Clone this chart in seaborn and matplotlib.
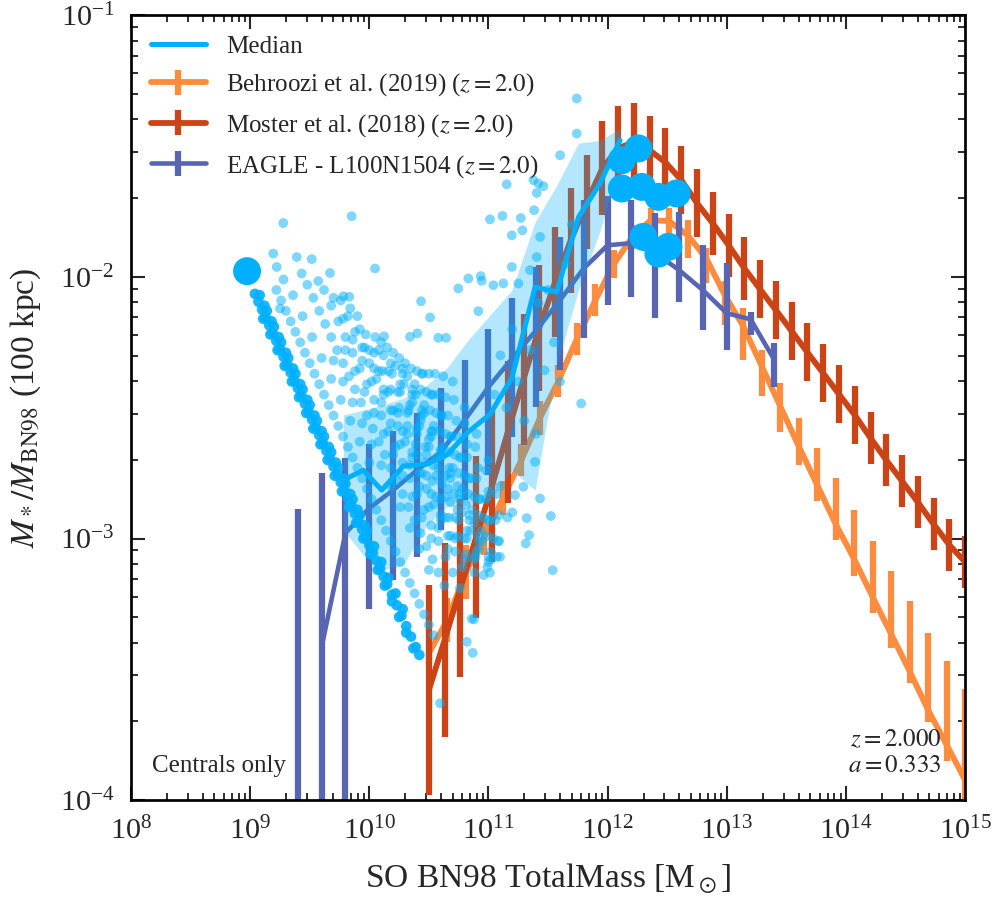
import numpy as np
import matplotlib
matplotlib.use('Agg')
import matplotlib.pyplot as plt
import seaborn as sns

# ---- data (log10 values) ----
# Behroozi et al. (2019), z=2
beh_logm = [10.50, 10.655, 10.81, 10.966, 11.121, 11.276, 11.431, 11.586, 11.741, 11.897,
            12.052, 12.207, 12.362, 12.517, 12.672, 12.828, 12.983, 13.138, 13.293, 13.448,
            13.603, 13.759, 13.914, 14.069, 14.224, 14.379, 14.534, 14.69, 14.845, 15.0]
beh_logr = [-3.438, -3.312, -3.128, -2.995, -2.846, -2.700, -2.540, -2.399, -2.238, -2.089,
            -1.951, -1.848, -1.783, -1.787, -1.841, -1.929, -2.070, -2.188, -2.341, -2.494,
            -2.647, -2.796, -2.945, -3.079, -3.224, -3.365, -3.507, -3.656, -3.789, -3.923]
beh_up = [0.04, 0.084, 0.103, 0.069, 0.065, 0.061, 0.065, 0.061, 0.061, 0.061,
          0.053, 0.046, 0.046, 0.05, 0.057, 0.04, 0.053, 0.069, 0.061, 0.088,
          0.107, 0.141, 0.176, 0.187, 0.214, 0.241, 0.267, 0.294, 0.321, 0.348]
beh_lo = [0.04, 0.084, 0.103, 0.069, 0.065, 0.061, 0.065, 0.061, 0.061, 0.061,
          0.053, 0.046, 0.038, 0.046, 0.088, 0.096, 0.115, 0.13, 0.115, 0.099,
          0.073, 0.061, 0.061, 0.065, 0.061, 0.053, 0.046, 0.046, 0.061, 0.076]

# Moster et al. (2018), z=2
mos_logm = [10.5, 10.632, 10.765, 10.897, 11.029, 11.162, 11.294, 11.426, 11.559, 11.691,
            11.824, 11.956, 12.088, 12.221, 12.353, 12.485, 12.618, 12.75, 12.882, 13.015,
            13.147, 13.279, 13.412, 13.544, 13.676, 13.809, 13.941, 14.074, 14.206, 14.338,
            14.471, 14.603, 14.735, 14.868, 15.0]
mos_logr = [-3.579, -3.388, -3.190, -2.995, -2.800, -2.593, -2.391, -2.196, -2.020, -1.860,
            -1.715, -1.585, -1.508, -1.485, -1.516, -1.562, -1.630, -1.718, -1.795, -1.879,
            -1.967, -2.047, -2.127, -2.207, -2.288, -2.368, -2.448, -2.528, -2.616, -2.700,
            -2.781, -2.861, -2.945, -3.025, -3.090]
mos_err = [0.40, 0.37, 0.34, 0.31, 0.29, 0.27, 0.25, 0.24, 0.21, 0.20,
           0.18, 0.18, 0.16, 0.15, 0.13, 0.13, 0.13, 0.13, 0.12, 0.12,
           0.12, 0.11, 0.11, 0.11, 0.11, 0.11, 0.11, 0.11, 0.10, 0.10,
           0.10, 0.10, 0.10, 0.10, 0.10]

# EAGLE L100N1504, z=2 (median, lower and upper ends of bars)
eagle_logm = [9.4, 9.6, 9.8, 10.0, 10.2, 10.4, 10.6, 10.8, 11.0, 11.2, 11.4,
              11.6, 11.8, 12.0, 12.2, 12.4, 12.6, 12.8, 13.0, 13.2, 13.4]
eagle_logr = [np.nan, -3.415, -2.979, -2.884, -2.815, -2.739, -2.670, -2.548, -2.421, -2.311, -2.204,
              -2.089, -1.967, -1.879, -1.871, -1.909, -1.974, -2.051, -2.139, -2.162, -2.318]
eagle_hi = [-2.888, -2.750, -2.693, -2.639, -2.590, -2.521, -2.425, -2.318, -2.200, -2.081, -1.963,
            -1.848, -1.707, -1.692, -1.707, -1.757, -1.753, -1.879, -1.948, -2.135, -2.253]
eagle_lo = [-5.0, -5.0, -5.0, -3.270, -3.159, -3.071, -2.968, -2.853, -2.758, -2.613, -2.498,
            -2.357, -2.234, -2.108, -2.078, -2.158, -2.097, -2.204, -2.280, -2.223, -2.421]

# binned median of the simulated centrals and its 16-84 range
med_logm = [9.782, 9.950, 10.104, 10.286, 10.482, 10.650, 10.829, 11.013, 11.196, 11.391,
            11.573, 11.755, 11.937, 12.104]
med_logr = [-2.777, -2.739, -2.815, -2.723, -2.716, -2.681, -2.593, -2.525, -2.387, -2.039,
            -2.058, -1.772, -1.642, -1.478]
med_up = [-2.528, -2.509, -2.490, -2.464, -2.414, -2.349, -2.242, -2.146, -2.051, -1.791,
          -1.650, -1.489, -1.478, -1.432]
med_lo = [-2.968, -3.063, -3.121, -3.102, -2.949, -2.880, -2.872, -2.853, -2.739, -2.815,
          -2.337, -2.051, -1.822, -1.554]

# individual haloes drawn as large dots (sparse bins)
big_logm = [8.974, 12.258, 12.119, 12.119, 12.287, 12.426, 12.580, 12.300, 12.426, 12.510]
big_logr = [-1.978, -1.509, -1.554, -1.662, -1.656, -1.694, -1.681, -1.847, -1.911, -1.885]

# heavily over-plotted streak of the lowest stellar mass (log M, log ratio)
dense_logm = [
    9.04, 9.07, 9.10, 9.13, 9.16, 9.19, 9.22, 9.25, 9.28, 9.31, 9.34, 9.37, 9.40, 9.43, 9.46,
    9.49, 9.52, 9.55, 9.58, 9.61, 9.64, 9.67, 9.70, 9.73, 9.76, 9.79, 9.82, 9.85, 9.88, 9.91,
    9.94, 9.97, 10.00, 10.03, 10.06, 10.09, 10.12, 10.15, 10.19, 10.23, 10.27, 10.31, 10.35, 10.39, 10.42,
    9.08, 9.14, 9.20, 9.26, 9.32, 9.38, 9.44, 9.50, 9.56, 9.62, 9.68, 9.74, 9.80, 9.86, 9.92, 9.98,
    10.04, 10.10, 10.16, 10.22, 10.28,
    9.11, 9.17, 9.23, 9.29, 9.35, 9.41, 9.47, 9.53, 9.59, 9.65, 9.71, 9.77, 9.83, 9.89, 9.95, 10.01,
    10.07, 10.13, 10.19, 10.25, 10.31, 10.37,
    9.12, 9.18, 9.24, 9.30, 9.36, 9.42, 9.48, 9.54, 9.60, 9.66, 9.72, 9.78, 9.84, 9.90, 9.96,
]
dense_logr = [
    -2.065, -2.095, -2.125, -2.155, -2.185, -2.215, -2.245, -2.275, -2.305, -2.335, -2.365, -2.395, -2.425, -2.455, -2.485,
    -2.515, -2.545, -2.575, -2.605, -2.635, -2.665, -2.695, -2.725, -2.755, -2.785, -2.815, -2.845, -2.875, -2.905, -2.935,
    -2.965, -2.995, -3.025, -3.055, -3.085, -3.115, -3.145, -3.175, -3.215, -3.255, -3.295, -3.335, -3.375, -3.415, -3.445,
    -2.07, -2.13, -2.19, -2.25, -2.31, -2.37, -2.43, -2.49, -2.55, -2.61, -2.67, -2.73, -2.79, -2.85, -2.91, -2.97,
    -3.03, -3.09, -3.15, -3.21, -3.27,
    -2.16, -2.22, -2.28, -2.34, -2.40, -2.46, -2.52, -2.58, -2.64, -2.70, -2.76, -2.82, -2.88, -2.94, -3.00, -3.06,
    -3.12, -3.18, -3.24, -3.30, -3.36, -3.42,
    -2.11, -2.17, -2.23, -2.29, -2.35, -2.41, -2.47, -2.53, -2.59, -2.65, -2.71, -2.77, -2.83, -2.89, -2.95,
]

# remaining centrals (log M, log ratio)
pts_logm = [
    # second streak
    9.22, 9.26, 9.30, 9.34, 9.38, 9.42, 9.46, 9.50, 9.54, 9.58, 9.62, 9.66, 9.70, 9.74, 9.78, 9.82, 9.86,
    9.90, 9.94, 9.98, 10.02, 10.06, 10.10, 10.14, 10.18, 10.22, 10.26, 10.30, 10.34, 10.38, 10.42, 10.46,
    10.50, 10.54,
    9.28, 9.36, 9.44, 9.52, 9.60, 9.68, 9.76, 9.84, 9.92, 10.00,
    # third
    9.48, 9.53, 9.58, 9.63, 9.68, 9.73, 9.78, 9.83, 9.88, 9.93, 9.98, 10.03, 10.08, 10.13, 10.18, 10.23,
    10.28, 10.33, 10.38, 10.43, 10.48, 10.53, 10.58, 10.63,
    9.70, 9.78, 9.86, 9.94, 10.02, 10.10, 10.18, 10.26, 10.34, 10.42, 10.50,
    # fourth
    9.62, 9.68, 9.74, 9.80, 9.86, 9.92, 9.98, 10.04, 10.10, 10.16, 10.22, 10.28, 10.34, 10.40, 10.46,
    10.52, 10.58, 10.64, 10.70, 10.76,
    9.80, 9.88, 9.96, 10.04, 10.12, 10.20, 10.28, 10.36, 10.44, 10.52,
    9.70, 9.78, 9.86, 9.94, 10.02, 10.10, 10.18, 10.26, 10.34, 10.42, 10.50, 10.58, 10.66,
    # fifth
    9.76, 9.82, 9.88, 9.94, 10.00, 10.06, 10.12, 10.18, 10.24, 10.30, 10.36, 10.42, 10.48, 10.54, 10.60,
    10.66, 10.72, 10.78,
    9.96, 10.04, 10.12, 10.20, 10.28, 10.36, 10.44, 10.52, 10.60, 10.68,
    9.84, 9.92, 10.00, 10.08, 10.16, 10.24, 10.32, 10.40, 10.48, 10.56, 10.64, 10.72, 10.80,
    # sixth
    9.90, 9.97, 10.04, 10.11, 10.18, 10.25, 10.32, 10.39, 10.46, 10.53, 10.60, 10.67, 10.74, 10.81, 10.88,
    # denser cloud
    10.05, 10.12, 10.19, 10.26, 10.33, 10.40, 10.47, 10.54, 10.61, 10.68, 10.75, 10.82, 10.89, 10.96,
    10.08, 10.16, 10.24, 10.32, 10.40, 10.48, 10.56, 10.64, 10.72, 10.80, 10.88,
    10.10, 10.18, 10.26, 10.34, 10.42, 10.50, 10.58, 10.66, 10.74, 10.82, 10.90,
    10.15, 10.22, 10.29, 10.36, 10.43, 10.50, 10.57, 10.64, 10.71, 10.78, 10.85, 10.92, 10.99,
    10.20, 10.28, 10.36, 10.44, 10.52, 10.60, 10.68, 10.76, 10.84, 10.92, 11.00,
    10.25, 10.32, 10.39, 10.46, 10.53, 10.60, 10.67, 10.74, 10.81, 10.88, 10.95, 11.02,
    10.28, 10.36, 10.44, 10.52, 10.60, 10.68, 10.76, 10.84, 10.92, 11.00,
    10.30, 10.38, 10.46, 10.54, 10.62, 10.70, 10.78, 10.86, 10.94, 11.02,
    10.35, 10.43, 10.51, 10.59, 10.67, 10.75, 10.83, 10.91, 10.99, 11.07,
    10.40, 10.48, 10.56, 10.64, 10.72, 10.80, 10.88, 10.96, 11.04,
    10.44, 10.52, 10.60, 10.68, 10.76, 10.84, 10.92, 11.00, 11.08,
    10.45, 10.53, 10.61, 10.69, 10.77, 10.85, 10.93, 11.01, 11.09,
    10.50, 10.58, 10.66, 10.74, 10.82, 10.90, 10.98, 11.06,
    10.55, 10.64, 10.73, 10.82, 10.91, 11.00, 11.09,
    10.62, 10.71, 10.80, 10.89, 10.98, 11.07, 11.16,
    10.70, 10.80, 10.90, 11.00, 11.10, 11.20,
    # sparse points
    9.278, 9.852, 9.194, 9.391, 9.517, 9.223, 9.433, 9.670, 9.572, 10.048, 9.251, 9.782, 9.832,
    10.747, 10.831, 10.935, 10.943, 10.434, 10.51, 10.915, 10.124, 10.342, 10.403, 10.579, 10.644,
    11.013, 11.117, 11.271, 11.196, 11.285, 11.383, 11.153, 11.377, 11.419, 11.461, 11.405, 11.601,
    11.741, 11.741, 11.433, 11.405, 11.349, 11.196, 11.125, 11.251, 11.041,
    11.778, 11.470, 11.433, 11.523, 11.321, 11.341, 11.313, 11.097, 11.013, 11.539, 11.293, 11.223,
    11.391, 10.868, 10.818, 10.86, 10.879, 10.594,
    11.10, 11.20, 11.25, 11.35, 11.42, 11.50, 11.55, 11.30, 11.15, 11.05, 11.40, 11.60, 11.65, 11.70,
]
pts_logr = [
    -2.05, -2.09, -2.13, -2.17, -2.21, -2.25, -2.29, -2.33, -2.37, -2.41, -2.45, -2.49, -2.53, -2.57, -2.61, -2.65, -2.69,
    -2.73, -2.77, -2.81, -2.85, -2.89, -2.93, -2.97, -3.01, -3.05, -3.09, -3.13, -3.17, -3.21, -3.25, -3.29,
    -3.33, -3.37,
    -2.01, -2.07, -2.15, -2.23, -2.31, -2.39, -2.47, -2.55, -2.63, -2.71,
    -2.03, -2.08, -2.13, -2.18, -2.23, -2.28, -2.33, -2.38, -2.43, -2.48, -2.53, -2.58, -2.63, -2.68, -2.73, -2.78,
    -2.83, -2.88, -2.93, -2.98, -3.03, -3.08, -3.13, -3.18,
    -2.32, -2.40, -2.48, -2.56, -2.64, -2.72, -2.80, -2.88, -2.96, -3.04, -3.12,
    -2.05, -2.11, -2.17, -2.23, -2.29, -2.35, -2.41, -2.47, -2.53, -2.59, -2.65, -2.71, -2.77, -2.83, -2.89,
    -2.95, -3.01, -3.07, -3.13, -3.19,
    -2.28, -2.36, -2.44, -2.52, -2.60, -2.68, -2.76, -2.84, -2.92, -3.00,
    -2.08, -2.16, -2.24, -2.32, -2.40, -2.48, -2.56, -2.64, -2.72, -2.80, -2.88, -2.96, -3.04,
    -2.09, -2.15, -2.21, -2.27, -2.33, -2.39, -2.45, -2.51, -2.57, -2.63, -2.69, -2.75, -2.81, -2.87, -2.93,
    -2.99, -3.05, -3.11,
    -2.27, -2.35, -2.43, -2.51, -2.59, -2.67, -2.75, -2.83, -2.91, -2.99,
    -2.12, -2.20, -2.28, -2.36, -2.44, -2.52, -2.60, -2.68, -2.76, -2.84, -2.92, -3.00, -3.08,
    -2.15, -2.22, -2.29, -2.36, -2.43, -2.50, -2.57, -2.64, -2.71, -2.78, -2.85, -2.92, -2.99, -3.06, -3.13,
    -2.23, -2.30, -2.37, -2.44, -2.51, -2.58, -2.65, -2.72, -2.79, -2.86, -2.93, -3.00, -3.07, -3.14,
    -2.28, -2.36, -2.44, -2.52, -2.60, -2.68, -2.76, -2.84, -2.92, -3.00, -3.08,
    -2.25, -2.33, -2.41, -2.49, -2.57, -2.65, -2.73, -2.81, -2.89, -2.97, -3.05,
    -2.27, -2.34, -2.41, -2.48, -2.55, -2.62, -2.69, -2.76, -2.83, -2.90, -2.97, -3.04, -3.11,
    -2.29, -2.37, -2.45, -2.53, -2.61, -2.69, -2.77, -2.85, -2.93, -3.01, -3.09,
    -2.31, -2.38, -2.45, -2.52, -2.59, -2.66, -2.73, -2.80, -2.87, -2.94, -3.01, -3.08,
    -2.35, -2.43, -2.51, -2.59, -2.67, -2.75, -2.83, -2.91, -2.99, -3.07,
    -2.33, -2.41, -2.49, -2.57, -2.65, -2.73, -2.81, -2.89, -2.97, -3.05,
    -2.35, -2.43, -2.51, -2.59, -2.67, -2.75, -2.83, -2.91, -2.99, -3.07,
    -2.36, -2.44, -2.52, -2.60, -2.68, -2.76, -2.84, -2.92, -3.00,
    -2.37, -2.45, -2.53, -2.61, -2.69, -2.77, -2.85, -2.93, -3.01,
    -2.37, -2.45, -2.53, -2.61, -2.69, -2.77, -2.85, -2.93, -3.01,
    -2.37, -2.45, -2.53, -2.61, -2.69, -2.77, -2.85, -2.93,
    -2.37, -2.46, -2.55, -2.64, -2.73, -2.82, -2.91,
    -2.38, -2.47, -2.56, -2.65, -2.74, -2.83, -2.92,
    -2.40, -2.50, -2.60, -2.70, -2.80, -2.90,
    -1.794, -1.768, -1.911, -1.924, -1.932, -1.962, -1.987, -1.985, -2.016, -1.968, -2.121, -2.074, -2.076,
    -2.044, -2.006, -1.997, -2.015, -2.093, -2.155, -2.131, -2.227, -2.229, -2.216, -2.233, -2.233,
    -1.78, -1.767, -1.775, -1.841, -1.822, -1.745, -1.646, -1.630, -1.643, -1.653, -1.679, -1.535,
    -1.452, -1.318, -1.847, -1.924, -1.974, -1.962, -2.025, -2.025, -2.032,
    -2.484, -2.357, -2.847, -2.914, -2.922, -2.987, -3.019, -3.07, -3.131, -3.121, -2.802, -2.834,
    -2.707, -3.437, -3.395, -3.307, -3.309, -3.63,
    -2.30, -2.20, -2.40, -2.28, -2.10, -2.05, -2.25, -2.55, -2.50, -2.45, -2.60, -2.40, -1.95, -1.80,
]

c_med = '#00b0ff'
c_beh = '#fd8c3e'
c_mos = '#cc4416'
c_eag = '#5765b2'

sns.set_style('ticks')
plt.rcParams['font.family'] = ['Liberation Serif', 'DejaVu Serif']
plt.rcParams['mathtext.fontset'] = 'stix'
plt.rcParams['xtick.direction'] = 'in'
plt.rcParams['ytick.direction'] = 'in'
plt.rcParams['xtick.top'] = True
plt.rcParams['ytick.right'] = True

fig = plt.figure(figsize=(6.64, 6.0), dpi=150)
ax = fig.add_axes([0.1315, 0.111, 0.8375, 0.872])
ax.set_xscale('log')
ax.set_yscale('log')

# observational / simulation comparison data
by = 10 ** np.array(beh_logr)
beh_yerr = [by - 10 ** (np.array(beh_logr) - np.array(beh_lo)),
            10 ** (np.array(beh_logr) + np.array(beh_up)) - by]
ax.errorbar(10 ** np.array(beh_logm), by, yerr=beh_yerr, color=c_beh, lw=2.8,
            elinewidth=3, capsize=0, zorder=1, label='Behroozi et al. (2019) ($z=2.0$)')

my = 10 ** np.array(mos_logr)
mos_yerr = [my - 10 ** (np.array(mos_logr) - np.array(mos_err)),
            10 ** (np.array(mos_logr) + np.array(mos_err)) - my]
ax.errorbar(10 ** np.array(mos_logm), my, yerr=mos_yerr, color=c_mos, lw=2.8,
            elinewidth=3, capsize=0, zorder=1.1, label='Moster et al. (2018) ($z=2.0$)')

em = np.array(eagle_logm)
er = np.array(eagle_logr)
ok = ~np.isnan(er)
ey = 10 ** er[ok]
eagle_yerr = [ey - 10 ** np.array(eagle_lo)[ok], 10 ** np.array(eagle_hi)[ok] - ey]
ax.errorbar(10 ** em[ok], ey, yerr=eagle_yerr, color=c_eag, lw=2.2,
            elinewidth=3, capsize=0, zorder=1.2, label='EAGLE - L100N1504 ($z=2.0$)')
ax.vlines(10 ** em[~ok], 10 ** np.array(eagle_lo)[~ok], 10 ** np.array(eagle_hi)[~ok],
          color=c_eag, lw=3, zorder=1.2)

# simulated centrals
sns.scatterplot(x=10 ** np.array(pts_logm), y=10 ** np.array(pts_logr), s=22, color=c_med,
                alpha=0.5, edgecolor='none', linewidth=0, ax=ax, zorder=3, legend=False)
sns.scatterplot(x=10 ** np.array(dense_logm), y=10 ** np.array(dense_logr), s=26, color=c_med,
                alpha=0.9, edgecolor='none', linewidth=0, ax=ax, zorder=3, legend=False)
ax.fill_between(10 ** np.array(med_logm), 10 ** np.array(med_lo), 10 ** np.array(med_up),
                color=c_med, alpha=0.3, lw=0, zorder=4)
sns.lineplot(x=10 ** np.array(med_logm), y=10 ** np.array(med_logr), color=c_med, lw=2.4,
             sort=False, ax=ax, zorder=5, label='Median')
sns.scatterplot(x=10 ** np.array(big_logm), y=10 ** np.array(big_logr), s=180, color=c_med,
                edgecolor='none', linewidth=0, ax=ax, zorder=6, legend=False)

ax.set_xlim(1e8, 1e15)
ax.set_ylim(1e-4, 1e-1)
ax.tick_params(which='major', length=6.5, width=1.0, labelsize=14.5, pad=8)
ax.tick_params(which='minor', length=3.3, width=0.9)
for sp in ax.spines.values():
    sp.set_linewidth(1.3)
    sp.set_color('black')

ax.set_xlabel(r'SO BN98 TotalMass [M$_\odot$]', fontsize=16, labelpad=8)
ax.set_ylabel(r'$M_*/M_{\rm BN98}$ (100 kpc)', fontsize=16, labelpad=8)

handles, labels = ax.get_legend_handles_labels()
order = ['Median', 'Behroozi et al. (2019) ($z=2.0$)', 'Moster et al. (2018) ($z=2.0$)',
         'EAGLE - L100N1504 ($z=2.0$)']
hmap = dict(zip(labels, handles))
ax.legend([hmap[k] for k in order], order, loc='upper left', frameon=False, fontsize=12,
          handlelength=2.2, labelspacing=0.55, borderaxespad=0.4)

ax.text(0.025, 0.03, 'Centrals only', transform=ax.transAxes, fontsize=12, ha='left', va='bottom')
ax.text(0.972, 0.03, '$z=2.000$\n$a=0.333$', transform=ax.transAxes, fontsize=12,
        ha='right', va='bottom', linespacing=1.2)

fig.savefig('out.png', dpi=150)
